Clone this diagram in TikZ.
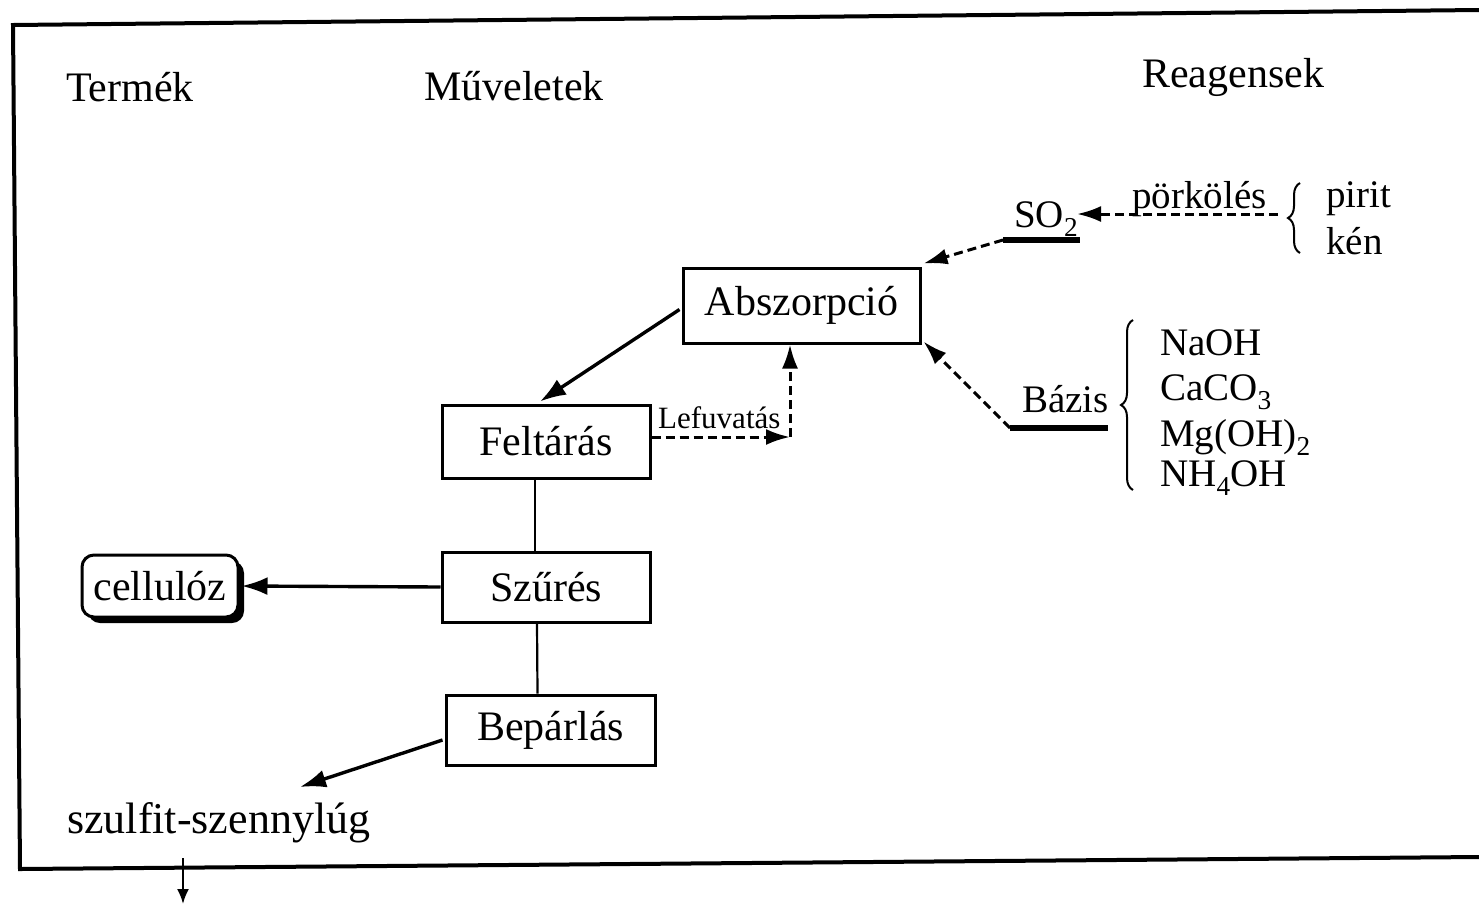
\documentclass[tikz,border=0pt]{standalone}
\usepackage{fontspec}
\setmainfont{Liberation Serif}
\usetikzlibrary{arrows.meta,shadows,calc,decorations.pathreplacing}
\newcommand\fsA{\fontsize{42}{48}\selectfont}
\newcommand\fsB{\fontsize{39}{45}\selectfont}
\newcommand\fsC{\fontsize{31}{36}\selectfont}
\newcommand\fsD{\fontsize{44}{50}\selectfont}
\tikzset{
 proc/.style={draw, line width=3pt, inner sep=0pt, font=\fsA},
 lbl/.style={inner sep=0pt, anchor=base west},
 sol/.style={line width=3.4pt, -{Latex[length=26pt,width=18pt]}},
 dsh/.style={line width=3pt, dash pattern=on 9pt off 5pt, -{Latex[length=24pt,width=16pt]}},
 uline/.style={line width=6pt},
 brc/.style={line width=2pt, decorate, decoration={brace, amplitude=12pt}},
}
\begin{document}
\begin{tikzpicture}[x=1pt,y=-1pt]
\useasboundingbox (0,0) rectangle (1479,906);
% frame
\coordinate (fTR) at (1479,10);
\coordinate (fTL) at (13,25);
\coordinate (fBL) at (20,869);
\coordinate (fBR) at (1479,857);
\draw[line width=4pt] (fTR) -- (fTL) -- (fBL) -- (fBR);

% headers
\node[lbl,font=\fsA] (hTermek) at (66,101) {Termék};
\node[lbl,font=\fsA] (hMuv) at (424,100) {Műveletek};
\node[lbl,font=\fsA] (hReag) at (1142,87) {Reagensek};

% process boxes
\node[proc, minimum width=237pt, minimum height=75pt] (absz) at (801.5,305.5) {Abszorpció};
\node[proc, minimum width=208pt, minimum height=73pt] (felt) at (546,441.5) {Feltárás};
\node[proc, minimum width=208pt, minimum height=70pt] (szures) at (546,587) {Szűrés};
\node[proc, minimum width=209pt, minimum height=70pt] (bep) at (550.5,730) {Bepárlás};
\node[proc, rounded corners=12pt, minimum width=156pt, minimum height=62pt,
      drop shadow={shadow xshift=6pt, shadow yshift=-6pt, fill=black, opacity=1},
      fill=white] (cell) at (160,586) {cellulóz};

% SO2 and roasting
\node[lbl,font=\fsB] (so2) at (1014,227) {SO\textsubscript{2}};
\coordinate (so2L) at (1003,240);
\coordinate (so2R) at (1080,240);
\draw[uline] (so2L) -- (so2R);
\node[lbl,font=\fsB] (pork) at (1132,208) {pörkölés};
\coordinate (porkR) at (1278,214);
\coordinate (so2tip) at (1077,214);
\draw[dsh] (porkR) -- (so2tip);
\coordinate (b1t) at (1300,183);
\coordinate (b1b) at (1300,253);
\draw[brc] (b1b) -- (b1t);
\node[lbl,font=\fsB] (pirit) at (1326,207) {pirit};
\node[lbl,font=\fsB] (ken) at (1326,254) {kén};
\draw[dsh] (so2L) -- ($(absz.north east)+(2,-3)$);

% bases
\node[lbl,font=\fsB] (bazis) at (1022,412) {Bázis};
\coordinate (bazL) at (1010,428);
\coordinate (bazR) at (1108,428);
\draw[uline] (bazL) -- (bazR);
\draw[dsh] (bazL) -- ($(absz.south east)+(2,-3)$);
\coordinate (b2t) at (1133,320);
\coordinate (b2b) at (1133,490);
\draw[brc] (b2b) -- (b2t);
\node[lbl,font=\fsB] (naoh) at (1160,355) {NaOH};
\node[lbl,font=\fsB] (caco) at (1160,400) {CaCO\textsubscript{3}};
\node[lbl,font=\fsB] (mgoh) at (1160,446) {Mg(OH)\textsubscript{2}};
\node[lbl,font=\fsB] (nhoh) at (1160,486) {NH\textsubscript{4}OH};

% main flow
\draw[sol] ($(absz.west)+(-2,4)$) -- ($(felt.north)+(-6,-2)$);
\coordinate (lefc) at (790,437);
\draw[dsh] (felt.east |- lefc) -- (lefc);
\draw[dsh] (lefc) -- (lefc |- absz.south);
\node[lbl,font=\fsC] (lef) at (658,428) {Lefuvatás};
\draw[line width=2.2pt] ($(felt.south)+(-11,0)$) -- ($(szures.north)+(-11,0)$);
\draw[line width=2.2pt] ($(szures.south)+(-9,0)$) -- ($(bep.north)+(-13,0)$);
\draw[sol] (szures.west) -- ($(cell.east)+(2,0)$);
\node[lbl,font=\fsD] (szulf) at (67,833) {szulfit-szennylúg};
\coordinate (szulfTip) at (300,787);
\draw[sol] ($(bep.west)+(-2,10)$) -- (szulfTip);
\coordinate (outA) at (183,858);
\coordinate (outB) at (183,904);
\draw[line width=2.2pt,-{Latex[length=15pt,width=12pt]}] (outA) -- (outB);
\end{tikzpicture}
\end{document}
